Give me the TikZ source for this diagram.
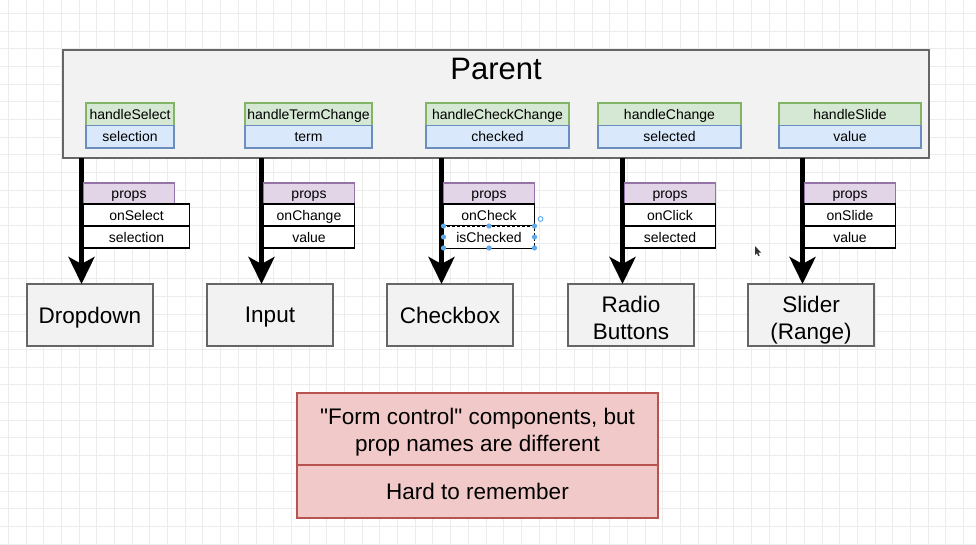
\documentclass[tikz,border=0pt]{standalone}
\usepackage{fontspec}
\setmainfont{Liberation Sans}[Ligatures=TeXOff]
\usepackage{tikz}
\usetikzlibrary{arrows.meta}
\usetikzlibrary{positioning}
\definecolor{gridgray}{HTML}{ECECEC}
\definecolor{boxfill}{HTML}{F2F2F2}
\definecolor{boxline}{HTML}{666666}
\definecolor{greenfill}{HTML}{D5E8D4}
\definecolor{greenline}{HTML}{82B366}
\definecolor{bluefill}{HTML}{DAE8FC}
\definecolor{blueline}{HTML}{6C8EBF}
\definecolor{purplefill}{HTML}{E1D5E7}
\definecolor{purpleline}{HTML}{9673A6}
\definecolor{redfill}{HTML}{F2C9C9}
\definecolor{redline}{HTML}{B85450}
\definecolor{handleblue}{HTML}{5DA9E9}

\begin{document}
\begin{tikzpicture}[x=1pt,y=-1pt,
                    every node/.style={inner sep=0pt,outer sep=0pt},
                    gridline/.style={gridgray,line width=0.8pt},
                    cell/.style={draw,anchor=north west},
                    oneline/.style={text height=10pt,text depth=0pt,
                                    font=\fontsize{14}{17}\selectfont},
                    parent/.style={cell,fill=boxfill,draw=boxline,line width=2pt,
                                   minimum width=866,minimum height=108},
                    handler/.style={cell,oneline,fill=greenfill,draw=greenline,
                                    line width=1.5pt,minimum height=22.5},
                    state/.style={cell,oneline,fill=bluefill,draw=blueline,
                                  line width=1.5pt,minimum height=22.5},
                    props/.style={cell,oneline,fill=purplefill,draw=purpleline,
                                  line width=1.5pt,minimum width=91,minimum height=21},
                    prop/.style={cell,oneline,fill=white,draw=black,
                                 line width=1.6pt,minimum height=22},
                    comp/.style={cell,fill=boxfill,draw=boxline,line width=1.6pt,
                                 minimum width=126,minimum height=62},
                    complabel/.style={align=center,font=\fontsize{22.5}{27}\selectfont},
                    note/.style={cell,fill=redfill,draw=redline,line width=1.5pt,
                                 minimum width=361,align=center,
                                 font=\fontsize{22.5}{27}\selectfont},
                    bigarrow/.style={line width=5pt,
                                     -{Stealth[length=27pt,width=26pt,inset=7pt]}},
                    selbox/.style={draw=black,line width=0.8pt,densely dashed}]
\useasboundingbox (0,0) rectangle (976,544);
\fill[white] (0,0) rectangle (976,544);
% the grid of the canvas
\foreach \i in {0,...,54}
  \draw[gridline] ({8.3+17.69*\i},0) -- ({8.3+17.69*\i},544);
\foreach \j in {0,...,30}
  \draw[gridline] (0,{13.3+17.69*\j}) -- (976,{13.3+17.69*\j});
%
\node[parent] (parent) at (63,50) {};
\node[anchor=base,font=\fontsize{31}{36}\selectfont] (parent title) at (496,79) {Parent};
\foreach \n/\x/\w/\fn/\st in {1/86/88/handleSelect/selection,
                              2/245/127/handleTermChange/term,
                              3/426/143/handleCheckChange/checked,
                              4/598/143/handleChange/selected,
                              5/779/142/handleSlide/value}
{
  \node[handler,minimum width=\w] (handler \n) at (\x,103) {\fn};
  \node[state,minimum width=\w] (state \n) at (handler \n.south west) {\st};
}
% the children, each fed by one arrow
\foreach \n/\x/\dy/\label in {1/27/-2.5/Dropdown,2/207/-2.5/Input,3/387/-0.5/Checkbox,
                              4/568/-2.5/{Radio\\Buttons},5/748/-4.7/{Slider\\(Range)}}
{
  \node[comp] (comp \n) at (\x,284) {};
  \node[complabel] (label \n) at ([yshift=\dy pt]comp \n.center) {\label};
  \coordinate (tip \n) at ([xshift=54.5pt]comp \n.north west);
  \draw[bigarrow] (parent.south -| tip \n) -- (tip \n);
}
% props handed down
\foreach \n/\pa/\pb/\w in {1/onSelect/selection/106,2/onChange/value/91,
                           3/onCheck/isChecked/91,4/onClick/selected/91,
                           5/onSlide/value/91}
{
  \node[props] (props \n) at ([xshift=2pt,yshift=101pt]tip \n) {props};
  \node[prop,minimum width=\w] (prop a \n) at (props \n.south west) {\pa};
  \node[prop,minimum width=\w] (prop b \n) at (prop a \n.south west) {\pb};
}
% selection handles round isChecked
\fill[white] (prop b 3.north west) rectangle (prop b 3.south east);
\node[oneline] (checked text) at (prop b 3.center) {isChecked};
\draw[selbox] (prop b 3.north west) rectangle (prop b 3.south east);
\foreach \a in {north west,north,north east,east,south east,south,south west,west}
  \fill[handleblue] (prop b 3.\a) circle (2.6);
\draw[handleblue,line width=0.9pt] ([xshift=6pt,yshift=7pt]prop b 3.north east) circle (2.4);
% mouse pointer
\fill[black!80] (755,246) -- (755,255) -- (757,253.2) -- (758.4,256.2)
  -- (759.6,255.6) -- (758.3,252.7) -- (761,252.5) -- cycle;
%
\node[note,minimum height=72] (note top) at (297,393) {};
\node[complabel] (note text) at ([yshift=-3pt]note top.center)
  {"Form control" components, but\\prop names are different};
\node[note,minimum height=53] (note bottom) at (note top.south west) {Hard to remember};
\end{tikzpicture}
\end{document}
